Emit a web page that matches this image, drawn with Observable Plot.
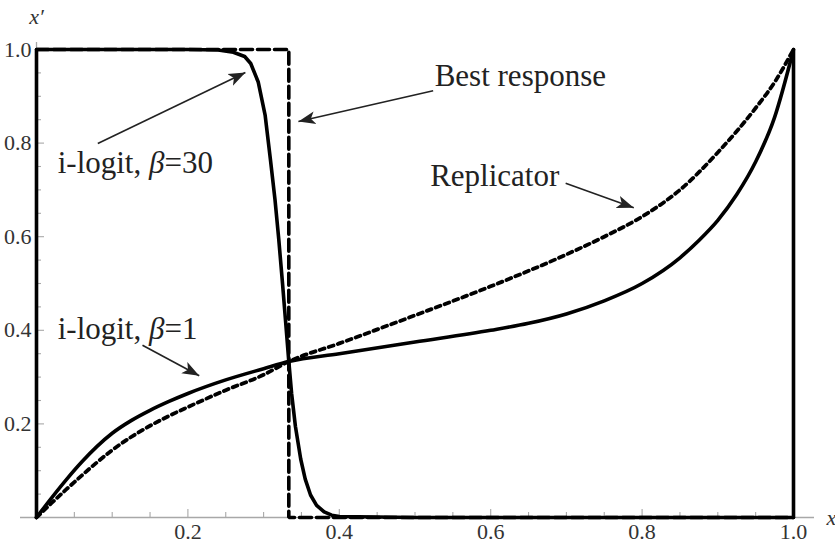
<!DOCTYPE html>
<html><head><meta charset="utf-8">
<script src="https://cdn.jsdelivr.net/npm/d3@7"></script>
<script src="https://cdn.jsdelivr.net/npm/@observablehq/plot@0.6"></script>
<style>body{margin:0;background:#fff}#chart{position:absolute;left:0;top:0}</style>
</head><body><div id="chart"></div>
<script>
// ---- tick values and labels ----
const xTickValues = [0.2, 0.4, 0.6, 0.8, 1.0];
const xTickLabels = ["0.2", "0.4", "0.6", "0.8", "1.0"];
const yTickValues = [0.2, 0.4, 0.6, 0.8, 1.0];
const yTickLabels = ["0.2", "0.4", "0.6", "0.8", "1.0"];
const minorTicks = [0.05, 0.1, 0.15, 0.25, 0.3, 0.35, 0.45, 0.5, 0.55, 0.65, 0.7, 0.75, 0.85, 0.9, 0.95];

// ---- series ----
const bestX = [0, 0.3333, 0.3333, 1.0];
const bestY = [1, 1, 0, 0];

const logit30X = [0, 0, 0.20, 0.24, 0.26, 0.275, 0.283, 0.293, 0.302, 0.309, 0.315, 0.320, 0.325, 0.329, 0.3333, 0.337, 0.342, 0.349, 0.355, 0.362, 0.370, 0.380, 0.390, 0.400, 0.500, 1.0, 1.0];
const logit30Y = [0, 1, 1, 0.999, 0.994, 0.985, 0.970, 0.930, 0.860, 0.765, 0.680, 0.595, 0.500, 0.420, 0.3333, 0.265, 0.195, 0.125, 0.082, 0.048, 0.026, 0.012, 0.005, 0.002, 0, 0, 1];

const logit1X = [0, 0.02, 0.04, 0.06, 0.08, 0.10, 0.125, 0.15, 0.175, 0.2, 0.25, 0.3, 0.3333, 0.4, 0.5, 0.6, 0.65, 0.7, 0.75, 0.8, 0.85, 0.875, 0.9, 0.925, 0.95, 0.975, 1.0];
const logit1Y = [0, 0.042, 0.082, 0.119, 0.152, 0.180, 0.207, 0.229, 0.248, 0.265, 0.294, 0.318, 0.3333, 0.350, 0.375, 0.400, 0.415, 0.435, 0.463, 0.500, 0.555, 0.592, 0.635, 0.690, 0.760, 0.855, 1.0];

const replX = [0, 0.02, 0.04, 0.06, 0.08, 0.10, 0.125, 0.15, 0.175, 0.2, 0.25, 0.3, 0.3333, 0.4, 0.5, 0.6, 0.7, 0.75, 0.8, 0.85, 0.9, 0.95, 0.975, 1.0];
const replY = [0, 0.031, 0.061, 0.090, 0.118, 0.144, 0.172, 0.196, 0.217, 0.236, 0.272, 0.305, 0.3333, 0.372, 0.432, 0.494, 0.562, 0.600, 0.643, 0.700, 0.780, 0.875, 0.930, 1.0];

// ---- annotations ----
const labelText = ["Best response", "i-logit, β=30", "i-logit, β=1", "Replicator"];
const labelX = [0.526, 0.028, 0.028, 0.520];
const labelY = [0.923, 0.737, 0.382, 0.709];

const arrowX1 = [0.524, 0.081, 0.140, 0.699];
const arrowY1 = [0.912, 0.799, 0.368, 0.714];
const arrowX2 = [0.346, 0.276, 0.215, 0.789];
const arrowY2 = [0.846, 0.951, 0.303, 0.662];

const pts = (xs, ys) => xs.map((x, i) => ({x, y: ys[i]}));
const labels = labelText.map((t, i) => ({t, x: labelX[i], y: labelY[i]}));
const arrows = arrowX1.map((x1, i) => ({x1, y1: arrowY1[i], x2: arrowX2[i], y2: arrowY2[i]}));

const W = 835, H = 547, mL = 36, mR = 42, mT = 49, mB = 30;
const innerH = H - mT - mB, innerW = W - mL - mR;
const axisGrey = "#a8a8a8";
const serif = "'Liberation Serif', 'DejaVu Serif', serif";

const chart = Plot.plot({
  width: W, height: H,
  marginLeft: mL, marginRight: mR, marginTop: mT, marginBottom: mB,
  x: {domain: [0, 1]},
  y: {domain: [0, 1]},
  style: {fontFamily: serif, background: "white", overflow: "visible"},
  marks: [
    // axis lines
    Plot.ruleY([0], {stroke: axisGrey, strokeWidth: 1.3, insetLeft: -16, insetRight: -21}),
    Plot.ruleX([0], {stroke: axisGrey, strokeWidth: 1.3, insetTop: -7}),
    // x ticks
    Plot.ruleX(minorTicks, {x: d => d, y1: 0, y2: 5 / innerH, stroke: axisGrey, strokeWidth: 1.1}),
    Plot.ruleX(xTickValues, {x: d => d, y1: 0, y2: 8 / innerH, stroke: axisGrey, strokeWidth: 1.1}),
    // y ticks
    Plot.ruleY(minorTicks, {y: d => d, x1: 0, x2: 5 / innerW, stroke: axisGrey, strokeWidth: 1.1}),
    Plot.ruleY(yTickValues, {y: d => d, x1: 0, x2: 8 / innerW, stroke: axisGrey, strokeWidth: 1.1}),
    Plot.axisX(xTickValues, {tickSize: 0, tickPadding: 6, fontSize: 22, fill: "#333", label: null,
      tickFormat: d => xTickLabels[xTickValues.indexOf(d)]}),
    Plot.axisY(yTickValues, {tickSize: 0, tickPadding: 5, fontSize: 22, fill: "#333", label: null,
      tickFormat: d => yTickLabels[yTickValues.indexOf(d)]}),
    // curves
    Plot.line(pts(bestX, bestY), {x: "x", y: "y", stroke: "black", strokeWidth: 3.6, strokeDasharray: "12,5", strokeLinejoin: "miter"}),
    Plot.line(pts(replX, replY), {x: "x", y: "y", stroke: "black", strokeWidth: 3.8, strokeDasharray: "5,4.5", curve: "monotone-x"}),
    Plot.line(pts(logit1X, logit1Y), {x: "x", y: "y", stroke: "black", strokeWidth: 3.6, curve: "monotone-x"}),
    Plot.line(pts(logit30X, logit30Y), {x: "x", y: "y", stroke: "black", strokeWidth: 3.6, strokeLinejoin: "round"}),
    // annotations
    Plot.link(arrows, {x1: "x1", y1: "y1", x2: "x2", y2: "y2", stroke: "#222", strokeWidth: 1.6}),
    Plot.text(labels, {x: "x", y: "y", text: "t", textAnchor: "start", lineAnchor: "bottom", fontSize: 31, fill: "#222"}),
    // axis names
    Plot.text(["x′"], {x: 0, y: 1, text: d => d, dy: -33, fontSize: 22, fontStyle: "italic", fill: "#333"}),
    Plot.text(["x"], {x: 1, y: 0, text: d => d, dx: 33, textAnchor: "start", fontSize: 22, fontStyle: "italic", fill: "#333"})
  ]
});
document.getElementById("chart").appendChild(chart);

const svg = d3.select(chart);

// tick label size (force on the text nodes themselves)
const tickSet = new Set([...xTickLabels, ...yTickLabels]);
svg.selectAll("text").filter(function () { return tickSet.has(this.textContent); })
  .attr("font-size", 22).style("font-size", "22px");

// filled arrowheads
const defs = svg.insert("defs", ":first-child");
defs.append("marker").attr("id", "ahead").attr("viewBox", "0 0 10 10")
  .attr("refX", 10).attr("refY", 5).attr("markerWidth", 17).attr("markerHeight", 17)
  .attr("markerUnits", "userSpaceOnUse").attr("orient", "auto")
  .append("path").attr("d", "M0,1.2 L10,5 L0,8.8 L2.5,5 Z").attr("fill", "#222");
svg.selectAll("g[aria-label='link'] path").attr("marker-end", "url(#ahead)");

// italic beta
svg.selectAll("g[aria-label='text'] text").each(function () {
  const t = this.textContent;
  if (t.includes("β")) {
    const [a, b] = t.split("β");
    const sel = d3.select(this);
    sel.text(null);
    sel.append("tspan").text(a);
    sel.append("tspan").attr("font-style", "italic").text("β");
    sel.append("tspan").text(b);
  }
});
</script>
</body></html>
